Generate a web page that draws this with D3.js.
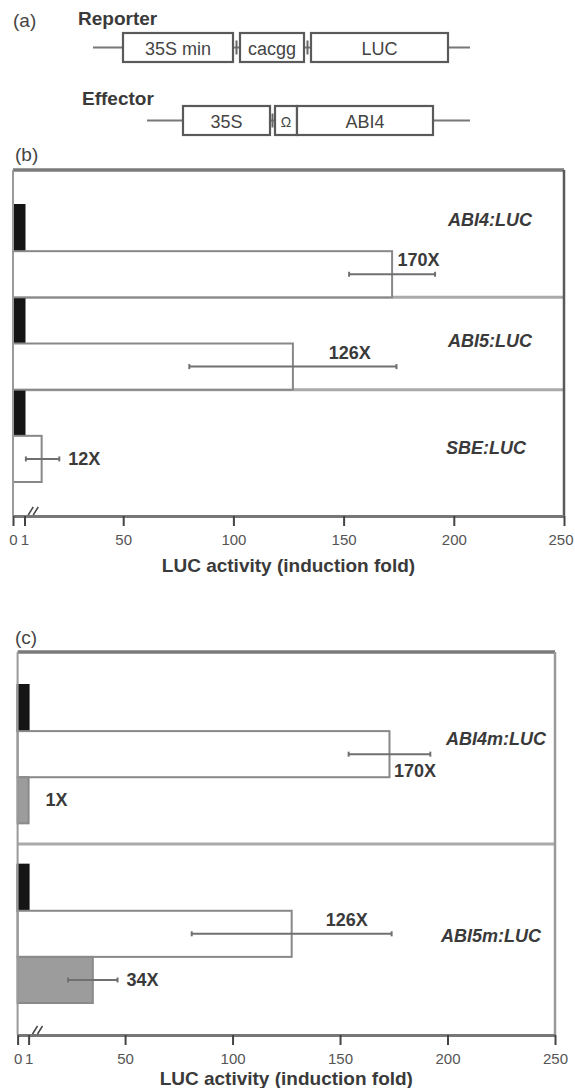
<!DOCTYPE html>
<html>
<head>
<meta charset="utf-8">
<script src="https://cdn.jsdelivr.net/npm/d3@7"></script>
<style>
  body { margin: 0; background: #fff; }
  svg { display: block; font-family: "Liberation Sans", Arial, sans-serif; }
</style>
</head>
<body>
<script>
/* x axis: 0..250, with a break after 1 so the reporter-only bars stay visible */
var ticks = [0, 1, 50, 100, 150, 200, 250]
var axisMax = 250
var breakTop = 6

/* panel (b): reporter alone (black) vs reporter + 35S:ABI4 (white) */
var reportersB = ["ABI4:LUC", "ABI5:LUC", "SBE:LUC"]
var reporterOnlyB = [1, 1, 1]
var withAbi4B = [172, 127, 13]
var withAbi4ErrB = [19.5, 47, 8]
var foldB = ["170X", "126X", "12X"]

/* panel (c): same, plus mutated reporter + ABI4 (grey) */
var reportersC = ["ABI4m:LUC", "ABI5m:LUC"]
var reporterOnlyC = [1, 1]
var withAbi4C = [173, 127.5]
var withAbi4ErrC = [19, 46.5]
var foldC = ["170X", "126X"]
var mutantC = [1, 35]
var mutantErrC = [0, 11.5]
var foldMutC = ["1X", "34X"]

/* construct schematic for panel (a) */
var reporterParts = ["35S min", "cacgg", "LUC"]
var effectorParts = ["35S", "\u03a9", "ABI4"]


var svg = d3.select("body").append("svg")
  .attr("width", 575)
  .attr("height", 1088)

var txt = "#3a3a3a"

function addText(x, y, s, size, opts) {
  opts = opts || {}
  return svg.append("text")
    .attr("x", x).attr("y", y)
    .attr("dominant-baseline", "central")
    .attr("text-anchor", opts.anchor || "start")
    .attr("font-size", size)
    .attr("font-weight", opts.bold ? "bold" : "normal")
    .attr("font-style", opts.italic ? "italic" : "normal")
    .attr("fill", opts.fill || txt)
    .text(s)
}


/* ---------- panel (a) ---------- */
function drawConstruct(parts, edges, line, y0, y1) {
  var yc = (y0 + y1) / 2
  var g = svg.append("g")
  g.append("line")
    .attr("x1", line[0]).attr("x2", line[1])
    .attr("y1", yc).attr("y2", yc)
    .attr("stroke", "#777").attr("stroke-width", 2)
  parts.forEach(function(name, i) {
    var e = edges[i]
    g.append("rect")
      .attr("x", e[0]).attr("y", y0)
      .attr("width", e[1] - e[0]).attr("height", y1 - y0)
      .attr("fill", "#fff").attr("stroke", "#5a5a5a").attr("stroke-width", 2.2)
    /* junction tick */
    if (i > 0 && edges[i - 1][1] < e[0]) {
      var jx = (edges[i - 1][1] + e[0]) / 2
      g.append("line").attr("x1", jx).attr("x2", jx)
        .attr("y1", yc - 7).attr("y2", yc + 7)
        .attr("stroke", "#666").attr("stroke-width", 2)
    }
    addText((e[0] + e[1]) / 2, yc + 1, name, name.length < 2 ? 14 : 18, {anchor: "middle", fill: "#444"})
  })
}

addText(13, 20, "(a)", 19, {fill: "#444"})
addText(78, 18, "Reporter", 19, {bold: true})
drawConstruct(reporterParts, [[123, 233], [240, 304], [311, 448]], [93, 470], 33, 62)
addText(82, 98, "Effector", 19, {bold: true})
drawConstruct(effectorParts, [[183, 270], [275, 297], [297, 433]], [147, 470], 106, 135)


/* ---------- panels (b) and (c) ---------- */
function drawPanel(p) {
  var k = (p.right - p.left) / axisMax
  var x = d3.scaleLinear()
    .domain([0, 1, breakTop, axisMax])
    .range([p.left, p.left + p.unitW, p.left + breakTop * k, p.right])

  var yGroup = d3.scaleBand()
    .domain(p.reporters)
    .range([p.top + p.padTop, p.bottom - p.padBottom])
    .paddingInner(p.groupGap)

  var yBar = d3.scaleBand()
    .domain(p.series.map(function(s) { return s.key }))
    .range([0, yGroup.bandwidth()])

  addText(15, p.letterY, p.letter, 19, {fill: "#444"})

  /* separators between reporter groups */
  p.reporters.slice(0, -1).forEach(function(r) {
    var yy = yGroup(r) + yGroup.bandwidth() + (yGroup.step() - yGroup.bandwidth()) / 2
    svg.append("line")
      .attr("x1", p.left).attr("x2", p.right)
      .attr("y1", yy).attr("y2", yy)
      .attr("stroke", "#aaa").attr("stroke-width", 3)
  })

  /* bars, error bars, fold labels */
  p.series.forEach(function(s) {
    var g = svg.append("g")
    p.reporters.forEach(function(r, i) {
      var v = s.values[i]
      var y0 = yGroup(r) + yBar(s.key)
      var h = yBar.bandwidth()
      var yc = y0 + h / 2
      g.append("rect")
        .attr("x", x(0)).attr("y", y0)
        .attr("width", x(v) - x(0)).attr("height", h)
        .attr("fill", s.fill)
        .attr("stroke", s.stroke).attr("stroke-width", 2)

      if (!s.err) return
      var e = s.err[i]
      if (e > 0) {
        g.append("line")
          .attr("x1", x(v - e)).attr("x2", x(v + e))
          .attr("y1", yc).attr("y2", yc)
          .attr("stroke", "#707070").attr("stroke-width", 2)
        ;[v - e, v + e].forEach(function(ev) {
          g.append("line")
            .attr("x1", x(ev)).attr("x2", x(ev))
            .attr("y1", yc - 2.5).attr("y2", yc + 2.5)
            .attr("stroke", "#707070").attr("stroke-width", 2)
        })
      }
      var pos = s.labelPos[i]
      if (pos == "right") {
        addText(x(v + e) + 9 + (e > 0 ? 0 : 8), yc, s.labels[i], 18, {bold: true})
      } else {
        var lx = (x(v) + x(v + e)) / 2 + 5
        addText(lx, yc + (pos == "above" ? -14 : 17), s.labels[i], 18, {bold: true, anchor: "middle"})
      }
    })
  })

  /* reporter names */
  p.reporters.forEach(function(r, i) {
    addText(p.right - p.nameInset[i], yGroup(r) + yGroup.bandwidth() / 2 + p.nameDy[i], r, 18,
      {bold: true, italic: true, anchor: "end"})
  })

  /* frame */
  svg.append("line")
    .attr("x1", p.left).attr("x2", p.right)
    .attr("y1", p.top).attr("y2", p.top)
    .attr("stroke", "#7a7a7a").attr("stroke-width", 3.5)
  svg.append("line")
    .attr("x1", p.left).attr("x2", p.left)
    .attr("y1", p.top).attr("y2", p.bottom)
    .attr("stroke", "#9a9a9a").attr("stroke-width", 2)
  svg.append("line")
    .attr("x1", p.right).attr("x2", p.right)
    .attr("y1", p.top).attr("y2", p.bottom)
    .attr("stroke", p.rightColor).attr("stroke-width", 2.5)

  /* x axis */
  var xAxis = d3.axisBottom(x)
    .tickValues(ticks)
    .tickSize(10)
    .tickSizeOuter(0)
    .tickPadding(8)
    .tickFormat(d3.format("d"))

  var ag = svg.append("g")
    .attr("transform", "translate(0," + p.bottom + ")")
    .call(xAxis)
    .attr("font-family", null)
    .attr("font-size", 15)
  ag.select(".domain").attr("stroke", "#777").attr("stroke-width", 3)
  ag.selectAll(".tick line").attr("stroke", "#444").attr("stroke-width", 2)
  ag.selectAll(".tick text").attr("fill", "#555")

  /* keep the last tick label inside the page */
  ag.selectAll(".tick text").each(function(d) {
    var box = this.getBBox()
    var over = x(d) + box.x + box.width - 573
    if (over > 0) d3.select(this).attr("dx", -over)
  })

  /* break marks on the axis */
  ;[2, 7].forEach(function(off) {
    var bx = x(breakTop) + off
    svg.append("line")
      .attr("x1", bx).attr("x2", bx + 5)
      .attr("y1", p.bottom - 1).attr("y2", p.bottom - 9)
      .attr("stroke", "#444").attr("stroke-width", 1.5)
  })

  addText((p.left + p.right) / 2, p.bottom + p.titleDy, "LUC activity (induction fold)", 19,
    {bold: true, anchor: "middle"})
}

drawPanel({
  letter: "(b)", letterY: 154,
  top: 170, bottom: 516, left: 13, right: 564, unitW: 11.5,
  padTop: 35, padBottom: 34, groupGap: 0,
  reporters: reportersB,
  nameInset: [32, 32, 38], nameDy: [-31, -3, 12],
  rightColor: "#5a5a5a",
  titleDy: 49,
  series: [
    {key: "ctrl", values: reporterOnlyB, fill: "#151515", stroke: "#151515"},
    {key: "abi4", values: withAbi4B, err: withAbi4ErrB, labels: foldB,
     labelPos: ["above", "above", "right"], fill: "#fff", stroke: "#888"}
  ]
})

drawPanel({
  letter: "(c)", letterY: 637,
  top: 652, bottom: 1035, left: 17.6, right: 555, unitW: 11,
  padTop: 33, padBottom: 32, groupGap: 0.23,
  reporters: reportersC,
  nameInset: [9, 14], nameDy: [-15, 2],
  rightColor: "#999",
  titleDy: 43,
  series: [
    {key: "ctrl", values: reporterOnlyC, fill: "#151515", stroke: "#151515"},
    {key: "abi4", values: withAbi4C, err: withAbi4ErrC, labels: foldC,
     labelPos: ["below", "above"], fill: "#fff", stroke: "#888"},
    {key: "mut", values: mutantC, err: mutantErrC, labels: foldMutC,
     labelPos: ["right", "right"], fill: "#9c9c9c", stroke: "#8a8a8a"}
  ]
})
</script>
</body>
</html>
